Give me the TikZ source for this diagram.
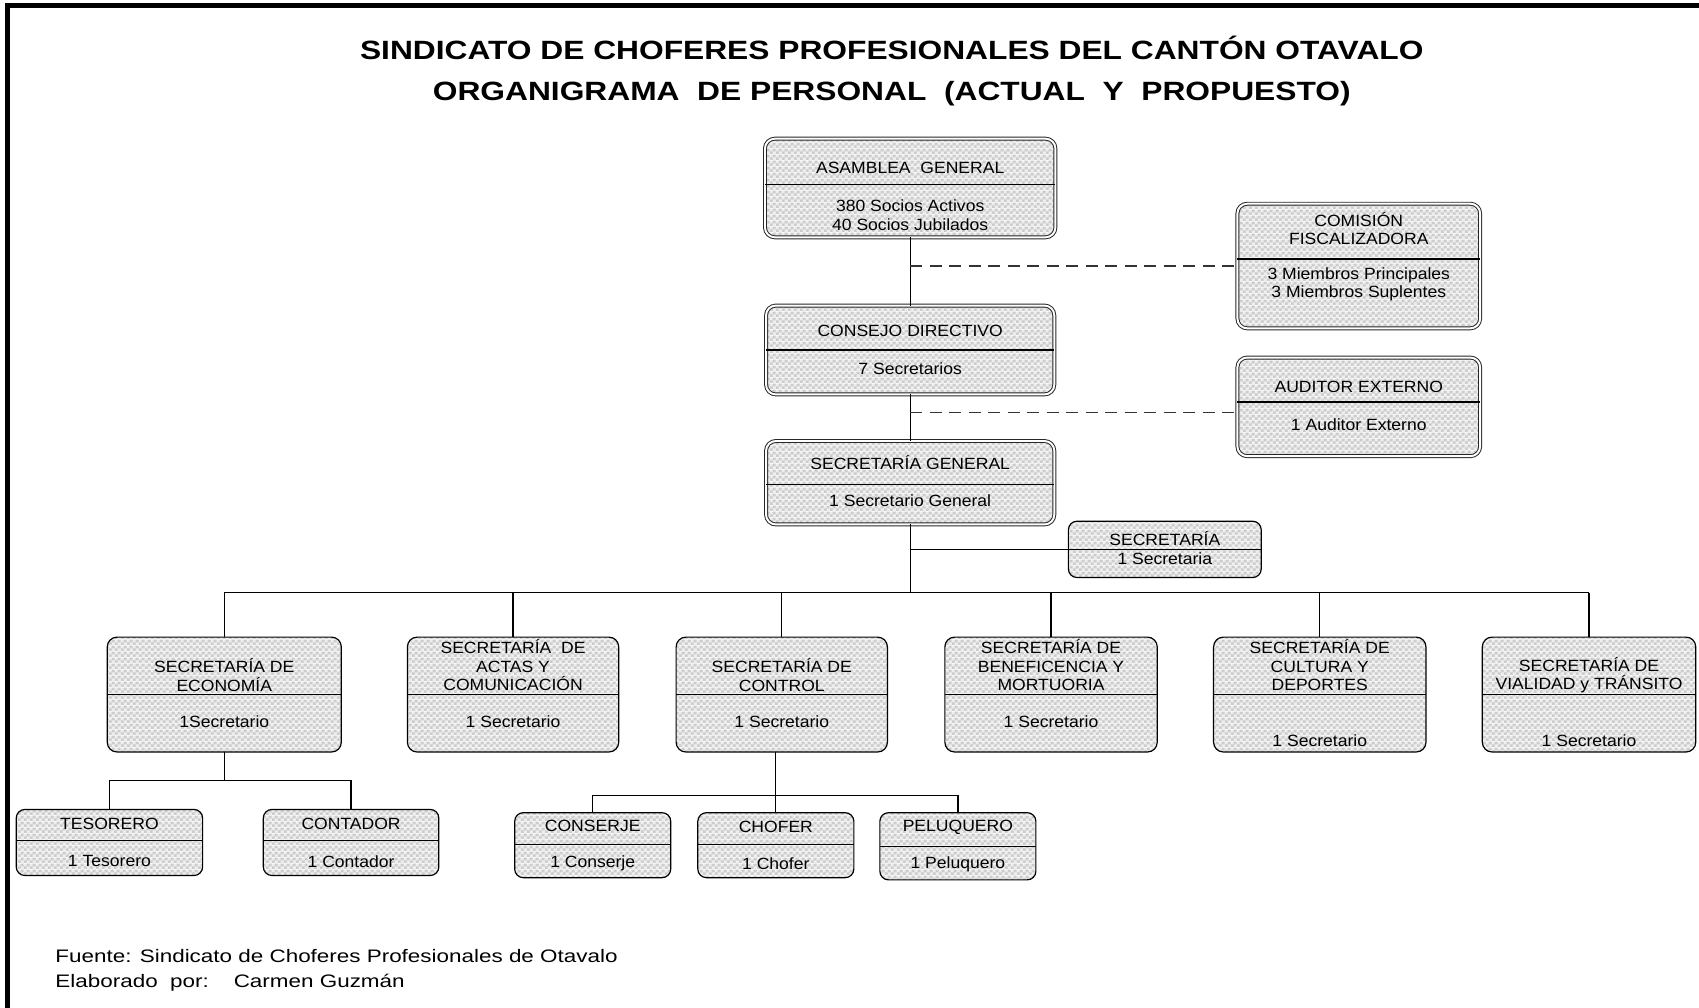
\documentclass[tikz,border=0pt]{standalone}
\usepackage{fontspec}
\setmainfont{Liberation Sans}
\newfontfamily\boxf[FakeStretch=1.08]{Liberation Sans}
\newfontfamily\titlef[FakeStretch=1.2]{Liberation Sans}
\newfontfamily\footf[FakeStretch=1.24]{Liberation Sans}
\usetikzlibrary{patterns}
\definecolor{chkA}{RGB}{204,204,204}
\definecolor{chkB}{RGB}{238,238,238}
\pgfdeclarepatterninherentlycolored{chk}{\pgfpointorigin}{\pgfqpoint{5.6pt}{5.6pt}}{\pgfqpoint{5.6pt}{5.6pt}}{%
  \pgfsetfillcolor{chkB}%
  \pgfpathrectangle{\pgfpointorigin}{\pgfqpoint{5.6pt}{5.6pt}}\pgfusepath{fill}%
  \pgfsetfillcolor{chkA}%
  \pgfpathrectangle{\pgfpointorigin}{\pgfqpoint{2.8pt}{2.8pt}}%
  \pgfpathrectangle{\pgfqpoint{2.8pt}{2.8pt}}{\pgfqpoint{2.8pt}{2.8pt}}\pgfusepath{fill}}
\tikzset{
  obox/.style={draw=black, line width=1.1pt, rounded corners=9pt, pattern=chk, inner sep=0pt, outer sep=0pt},
  dbox/.style={obox, draw=black!85, line width=0.9pt, double=white, double distance=1.8pt},
  divline/.style={draw=black, line width=1pt},
  conn/.style={draw=black, line width=1.2pt},
  dashln/.style={draw=black!80, line width=1.2pt, dash pattern=on 11pt off 7pt},
  btxt/.style={font=\boxf\fontsize{15}{17}\selectfont, align=center, inner sep=0pt},
  ttxt/.style={font=\titlef\bfseries\fontsize{24.4}{28}\selectfont, inner sep=0pt},
  ftxt/.style={font=\footf\fontsize{16.7}{20}\selectfont, anchor=west, inner sep=0pt},
}
\begin{document}
\begin{tikzpicture}[x=1pt,y=1pt]
\useasboundingbox (0,0) rectangle (1568,-930);
% frame
\draw[line width=4.5pt] (1568,-5) -- (7,-5) -- (7,-930);
% titles
\node[ttxt] (title1) at (823,-44) {SINDICATO DE CHOFERES PROFESIONALES DEL CANTÓN OTAVALO};
\node[ttxt] (title2) at (823,-86.5) {ORGANIGRAMA\ \ DE PERSONAL\ \ (ACTUAL\ \ Y\ \ PROPUESTO)};
% boxes level 1-3
\node[dbox, minimum width=268pt, minimum height=91pt] (A) at (840,-173.5) {};
\draw[divline] (A.west |- 0,-170) -- (A.east |- 0,-170);
\node[btxt] (At) at (840,-155) {ASAMBLEA\ \ GENERAL};
\node[btxt] (Ab) at (840,-198.5) {380 Socios Activos\\40 Socios Jubilados};

\node[dbox, minimum width=224pt, minimum height=115pt] (C) at (1254,-245.5) {};
\draw[divline] (C.west |- 0,-239) -- (C.east |- 0,-239);
\node[btxt] (Ct) at (1254,-211) {COMISIÓN\\FISCALIZADORA};
\node[btxt] (Cb) at (1254,-262.5) {3 Miembros Principales\\3 Miembros Suplentes};

\node[dbox, minimum width=266pt, minimum height=82pt] (D) at (840,-323) {};
\draw[divline] (D.west |- 0,-323) -- (D.east |- 0,-323);
\node[btxt] (Dt) at (840,-305) {CONSEJO DIRECTIVO};
\node[btxt] (Db) at (840,-340) {7 Secretarios};

\node[dbox, minimum width=224pt, minimum height=91pt] (E) at (1254,-375.5) {};
\draw[divline] (E.west |- 0,-371) -- (E.east |- 0,-371);
\node[btxt] (Et) at (1254,-357) {AUDITOR EXTERNO};
\node[btxt] (Eb) at (1254,-392) {1 Auditor Externo};

\node[dbox, minimum width=266pt, minimum height=77pt] (G) at (840,-445.5) {};
\draw[divline] (G.west |- 0,-447) -- (G.east |- 0,-447);
\node[btxt] (Gt) at (840,-427) {SECRETARÍA GENERAL};
\node[btxt] (Gb) at (840,-462) {1 Secretario General};

\node[obox, rounded corners=8pt, minimum width=178pt, minimum height=52pt] (S) at (1075,-507) {};
\draw[divline] (S.west |- 0,-507) -- (S.east |- 0,-507);
\node[btxt] (St) at (1075,-497) {SECRETARÍA};
\node[btxt] (Sb) at (1075,-516) {1 Secretaria};

% connectors upper part
\draw[conn] (A.south) -- (D.north);
\draw[dashln] (A.south |- C.west) -- (C.west);
\draw[conn] (D.south) -- (G.north);
\coordinate (j2) at (840,-381);
\draw[dashln] (j2) -- (E.west |- j2);
\coordinate (bus) at (840,-547);
\draw[conn] (G.south) -- (bus);
\draw[conn] (G.south |- S.west) -- (S.west);

% second row
\foreach \n/\x/\w in {E1/207/216, E2/473.5/195, E3/721.5/195, E4/970/196, E5/1218/196, E6/1466.5/197}{
  \node[obox, minimum width=\w pt, minimum height=106pt] (\n) at (\x,-641) {};
  \draw[divline] (\n.west |- 0,-641) -- (\n.east |- 0,-641);
}
\node[btxt] (E1t) at (207,-623) {SECRETARÍA DE\\ECONOMÍA};
\node[btxt] (E1b) at (207,-666) {1Secretario};
\node[btxt] (E2t) at (473.5,-614) {SECRETARÍA\ \ DE\\ACTAS Y\\COMUNICACIÓN};
\node[btxt] (E2b) at (473.5,-666) {1 Secretario};
\node[btxt] (E3t) at (721.5,-623) {SECRETARÍA DE\\CONTROL};
\node[btxt] (E3b) at (721.5,-666) {1 Secretario};
\node[btxt] (E4t) at (970,-614) {SECRETARÍA DE\\BENEFICENCIA Y\\MORTUORIA};
\node[btxt] (E4b) at (970,-666) {1 Secretario};
\node[btxt] (E5t) at (1218,-614) {SECRETARÍA DE\\CULTURA Y\\DEPORTES};
\node[btxt] (E5b) at (1218,-684) {1 Secretario};
\node[btxt] (E6t) at (1466.5,-623) {SECRETARÍA DE\\VIALIDAD y TRÁNSITO};
\node[btxt] (E6b) at (1466.5,-684) {1 Secretario};

\draw[conn] (E1.north |- bus) -- (E6.north |- bus);
\foreach \n in {E1,E2,E3,E4,E5,E6}{
  \draw[conn] (\n.north |- bus) -- (\n.north);
}

% third row
\foreach \n/\x/\y/\w/\h/\d in {T/101/-777.5/172/61/-776, K/324/-777.5/162/61/-776, N/547/-780/144/60/-779, H/716/-780/144/60/-779, P/884/-781/144/62/-781}{
  \node[obox, rounded corners=8pt, minimum width=\w pt, minimum height=\h pt] (\n) at (\x,\y) {};
  \draw[divline] (\n.west |- 0,\d) -- (\n.east |- 0,\d);
}
\node[btxt] (Tt) at (101,-760) {TESORERO};
\node[btxt] (Tb) at (101,-795) {1 Tesorero};
\node[btxt] (Kt) at (324,-760) {CONTADOR};
\node[btxt] (Kb) at (324,-795) {1 Contador};
\node[btxt] (Nt) at (547,-762) {CONSERJE};
\node[btxt] (Nb) at (547,-797) {1 Conserje};
\node[btxt] (Ht) at (716,-763) {CHOFER};
\node[btxt] (Hb) at (716,-797) {1 Chofer};
\node[btxt] (Pt) at (884,-764) {PELUQUERO};
\node[btxt] (Pb) at (884,-798) {1 Peluquero};

\coordinate (b2) at (207,-720);
\draw[conn] (E1.south) -- (b2);
\draw[conn] (T.north |- b2) -- (K.north |- b2);
\draw[conn] (T.north |- b2) -- (T.north);
\draw[conn] (K.north |- b2) -- (K.north);
\coordinate (b3) at (716,-734);
\draw[conn] (H.north |- E3.south) -- (H.north);
\draw[conn] (N.north |- b3) -- (P.north |- b3);
\draw[conn] (N.north |- b3) -- (N.north);
\draw[conn] (P.north |- b3) -- (P.north);

% footer
\node[ftxt] (f1) at (51,-882) {Fuente: Sindicato de Choferes Profesionales de Otavalo};
\node[ftxt] (f2) at (51,-907) {Elaborado\ \ por:\ \ \ \ Carmen Guzmán};
\end{tikzpicture}
\end{document}
